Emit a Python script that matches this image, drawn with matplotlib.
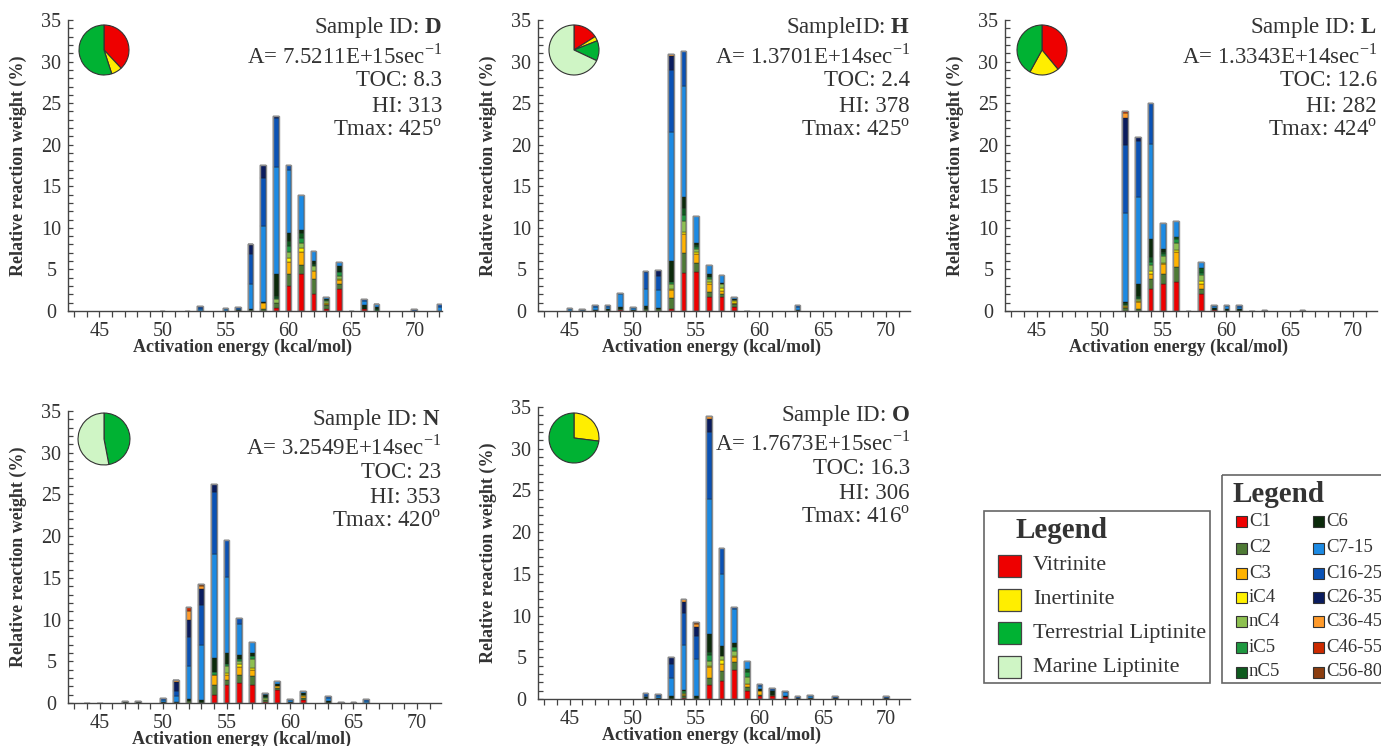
import matplotlib
matplotlib.use('Agg')
import matplotlib.pyplot as plt
from matplotlib.patches import Rectangle
from matplotlib.ticker import MultipleLocator

plt.rcParams['font.family'] = 'Liberation Serif'
plt.rcParams['mathtext.fontset'] = 'custom'
plt.rcParams['mathtext.rm'] = 'Liberation Serif'
plt.rcParams['mathtext.bf'] = 'Liberation Serif:bold'

W, H = 1381, 746
TXT = '#333333'

components = ['C1', 'C2', 'C3', 'iC4', 'nC4', 'iC5', 'nC5',
              'C6', 'C7-15', 'C16-25', 'C26-35', 'C36-45', 'C46-55', 'C56-80']
comp_colors = ['#ee0000', '#4e7a35', '#ffb300', '#fff000', '#8dc050', '#1e9840', '#0e5a1e',
               '#0b2a0b', '#1c8ae3', '#0a52b5', '#0a1c5e', '#ff9a2a', '#cc2a00', '#8b3d0f']

macerals = ['Vitrinite', 'Inertinite', 'Terrestrial Liptinite', 'Marine Liptinite']
maceral_colors = ['#ee0000', '#ffee00', '#00b233', '#cff5c5']

# activation energy (kcal/mol) -> relative reaction weight (%) per compound class
d_bars = {
    50: {'C16-25': 0.05},
    52: {'C16-25': 0.05},
    53: {'C7-15': 0.2, 'C16-25': 0.3, 'C26-35': 0.1},
    55: {'C7-15': 0.2, 'C16-25': 0.2},
    56: {'C6': 0.1, 'C7-15': 0.2, 'C16-25': 0.15},
    57: {'C2': 0.1, 'C6': 0.1, 'C7-15': 3.0, 'C16-25': 3.7, 'C26-35': 1.0, 'C36-45': 0.1, 'C56-80': 0.1},
    58: {'C2': 0.3, 'C3': 0.7, 'C6': 0.1, 'C7-15': 9.1, 'C16-25': 5.8, 'C26-35': 1.5},
    59: {'C1': 0.4, 'C2': 0.6, 'nC4': 0.4, 'iC5': 0.2, 'nC5': 0.2, 'C6': 2.7, 'C7-15': 12.8,
         'C16-25': 5.9, 'C26-35': 0.3},
    60: {'C1': 3.0, 'C2': 1.5, 'C3': 1.4, 'iC4': 0.5, 'nC4': 0.7, 'iC5': 0.7, 'nC5': 0.6, 'C6': 1.0,
         'C7-15': 7.5, 'C16-25': 0.7},
    61: {'C1': 4.5, 'C2': 1.0, 'C3': 1.6, 'iC4': 0.5, 'nC4': 0.6, 'iC5': 0.6, 'nC5': 0.6, 'C6': 0.4,
         'C7-15': 4.2},
    62: {'C1': 2.0, 'C2': 1.8, 'C3': 1.0, 'nC4': 0.6, 'nC5': 0.3, 'C6': 0.3, 'C7-15': 1.2},
    63: {'C1': 0.3, 'C2': 0.4, 'C3': 0.2, 'iC4': 0.1, 'nC4': 0.2, 'iC5': 0.1, 'nC5': 0.1, 'C6': 0.1,
         'C7-15': 0.2},
    64: {'C1': 2.6, 'C2': 0.6, 'C3': 0.5, 'iC4': 0.1, 'nC4': 0.4, 'iC5': 0.5, 'C6': 0.7, 'C7-15': 0.5},
    65: {'C16-25': 0.05},
    66: {'C1': 0.3, 'C6': 0.4, 'C7-15': 0.5, 'C16-25': 0.2},
    67: {'nC5': 0.2, 'C6': 0.3, 'C7-15': 0.3, 'C16-25': 0.1},
    70: {'C16-25': 0.25},
    72: {'C7-15': 0.5, 'C16-25': 0.4},
}

h_bars = {
    45: {'C7-15': 0.2, 'C16-25': 0.15},
    46: {'C7-15': 0.1, 'C16-25': 0.15},
    47: {'C6': 0.1, 'C7-15': 0.4, 'C16-25': 0.2},
    48: {'C6': 0.2, 'C7-15': 0.3, 'C16-25': 0.2},
    49: {'C1': 0.1, 'C2': 0.1, 'C6': 0.3, 'C7-15': 1.5, 'C16-25': 0.2},
    50: {'C6': 0.1, 'C7-15': 0.3, 'C16-25': 0.1},
    51: {'C2': 0.2, 'iC5': 0.1, 'C6': 0.3, 'C7-15': 2.1, 'C16-25': 2.0, 'C26-35': 0.1},
    52: {'C2': 0.2, 'C6': 0.2, 'C7-15': 2.1, 'C16-25': 1.7, 'C26-35': 0.7},
    53: {'C1': 0.3, 'C2': 1.3, 'C3': 0.9, 'iC4': 0.1, 'nC4': 0.6, 'iC5': 0.3, 'C6': 2.5,
         'C7-15': 15.5, 'C16-25': 7.5, 'C26-35': 1.7, 'C36-45': 0.2},
    54: {'C1': 4.6, 'C2': 2.4, 'C3': 2.3, 'iC4': 0.2, 'nC4': 1.3, 'iC5': 0.7, 'nC5': 0.9, 'C6': 1.3,
         'C7-15': 13.4, 'C16-25': 4.2},
    55: {'C1': 4.7, 'C2': 1.1, 'C3': 1.0, 'iC4': 0.3, 'nC4': 0.4, 'iC5': 0.2, 'nC5': 0.2, 'C6': 0.3,
         'C7-15': 3.2},
    56: {'C1': 1.7, 'C2': 0.6, 'C3': 0.9, 'iC4': 0.3, 'nC4': 0.3, 'iC5': 0.3, 'C6': 0.3, 'C7-15': 1.1},
    57: {'C1': 1.7, 'C2': 0.4, 'C3': 0.3, 'iC4': 0.4, 'nC4': 0.4, 'C6': 0.2, 'C7-15': 0.9},
    58: {'C1': 0.5, 'C2': 0.3, 'C3': 0.2, 'iC4': 0.2, 'nC4': 0.1, 'C6': 0.2, 'C7-15': 0.2},
    59: {'C6': 0.05},
    63: {'C6': 0.1, 'C7-15': 0.4, 'C16-25': 0.2},
}

l_bars = {
    52: {'C1': 0.05, 'C2': 0.3, 'C3': 0.1, 'iC4': 0.1, 'nC4': 0.2, 'nC5': 0.2, 'C6': 0.15,
         'C7-15': 10.7, 'C16-25': 8.2, 'C26-35': 3.2, 'C36-45': 0.6, 'C46-55': 0.2},
    53: {'C2': 0.2, 'C3': 0.9, 'iC4': 0.1, 'nC4': 0.2, 'iC5': 0.2, 'nC5': 0.2, 'C6': 1.4,
         'C7-15': 10.5, 'C16-25': 6.7, 'C26-35': 0.5},
    54: {'C1': 2.7, 'C2': 1.2, 'C3': 0.6, 'iC4': 0.3, 'nC4': 0.7, 'iC5': 0.4, 'nC5': 0.6, 'C6': 2.2,
         'C7-15': 11.4, 'C16-25': 4.9},
    55: {'C1': 3.2, 'C2': 1.2, 'C3': 1.2, 'iC4': 0.2, 'nC4': 0.8, 'iC5': 0.3, 'nC5': 0.2, 'C6': 0.3,
         'C7-15': 3.2},
    56: {'C1': 3.5, 'C2': 1.8, 'C3': 1.8, 'iC4': 0.2, 'nC4': 0.9, 'iC5': 0.4, 'nC5': 0.3, 'C7-15': 1.9},
    57: {'C6': 0.05},
    58: {'C1': 2.0, 'C2': 0.6, 'C3': 0.7, 'iC4': 0.3, 'nC4': 0.7, 'iC5': 0.3, 'nC5': 0.6, 'C7-15': 0.7},
    59: {'C1': 0.1, 'C6': 0.3, 'C7-15': 0.2, 'C16-25': 0.1},
    60: {'C6': 0.3, 'C7-15': 0.3, 'C16-25': 0.1},
    61: {'C6': 0.2, 'C7-15': 0.3, 'C16-25': 0.2},
    62: {'C6': 0.05},
    63: {'C6': 0.1},
    66: {'C6': 0.15},
}

n_bars = {
    44: {'C6': 0.05},
    45: {'C6': 0.05},
    47: {'C6': 0.1, 'C26-35': 0.1},
    48: {'C6': 0.1, 'C26-35': 0.1},
    50: {'C6': 0.1, 'C7-15': 0.3, 'C16-25': 0.2},
    51: {'C6': 0.1, 'C7-15': 0.7, 'C16-25': 0.6, 'C26-35': 1.1, 'C36-45': 0.2, 'C56-80': 0.1},
    52: {'C2': 0.2, 'C6': 0.3, 'C7-15': 3.9, 'C16-25': 3.5, 'C26-35': 2.0, 'C36-45': 1.1, 'C46-55': 0.5},
    53: {'C6': 0.4, 'C7-15': 6.6, 'C16-25': 4.8, 'C26-35': 1.9, 'C36-45': 0.3, 'C56-80': 0.3},
    54: {'C1': 0.9, 'C2': 1.3, 'C3': 1.1, 'iC4': 0.1, 'iC5': 0.3, 'C6': 1.7,
         'C7-15': 12.4, 'C16-25': 7.5, 'C26-35': 0.9},
    55: {'C1': 2.1, 'C2': 0.7, 'C3': 0.6, 'iC4': 0.2, 'nC4': 0.8, 'iC5': 0.3, 'C6': 1.3,
         'C7-15': 9.1, 'C16-25': 4.4},
    56: {'C1': 2.4, 'C2': 0.9, 'C3': 1.0, 'iC4': 0.4, 'nC4': 0.3, 'iC5': 0.3, 'C6': 0.4,
         'C7-15': 3.8, 'C16-25': 0.7},
    57: {'C1': 2.2, 'C2': 1.0, 'C3': 0.8, 'iC4': 0.2, 'nC4': 1.1, 'iC5': 0.3, 'C6': 0.4, 'C7-15': 1.3},
    58: {'C1': 0.1, 'C2': 0.2, 'nC4': 0.3, 'iC5': 0.1, 'C6': 0.2, 'C7-15': 0.2, 'C16-25': 0.1},
    59: {'C1': 1.5, 'C2': 0.3, 'C3': 0.2, 'C6': 0.3, 'C7-15': 0.3},
    60: {'C6': 0.1, 'C7-15': 0.2, 'C16-25': 0.2},
    61: {'C1': 0.4, 'C2': 0.2, 'C3': 0.2, 'nC4': 0.2, 'C6': 0.2, 'C7-15': 0.2},
    63: {'C6': 0.2, 'C7-15': 0.4, 'C16-25': 0.2},
    64: {'C6': 0.15},
    65: {'C6': 0.1},
    66: {'C7-15': 0.2, 'C16-25': 0.3},
}

o_bars = {
    51: {'C6': 0.2, 'C7-15': 0.2, 'C16-25': 0.3},
    52: {'C6': 0.1, 'C7-15': 0.3, 'C16-25': 0.2},
    53: {'C6': 0.4, 'C7-15': 2.1, 'C16-25': 1.7, 'C26-35': 0.8},
    54: {'C1': 0.1, 'C2': 0.2, 'C3': 0.2, 'iC4': 0.1, 'nC4': 0.1, 'iC5': 0.2, 'C6': 0.2,
         'C7-15': 5.4, 'C16-25': 3.8, 'C26-35': 1.3, 'C36-45': 0.4},
    55: {'C6': 0.4, 'C7-15': 4.4, 'C16-25': 2.8, 'C26-35': 1.0, 'C36-45': 0.4, 'C56-80': 0.2},
    56: {'C1': 1.7, 'C2': 0.8, 'C3': 1.3, 'iC4': 0.2, 'nC4': 0.6, 'iC5': 0.7, 'nC5': 0.3, 'C6': 2.2,
         'C7-15': 16.2, 'C16-25': 8.0, 'C26-35': 1.6, 'C36-45': 0.3},
    57: {'C1': 2.1, 'C2': 1.3, 'C3': 0.8, 'iC4': 0.5, 'nC4': 0.4, 'C6': 1.3, 'C7-15': 8.6, 'C16-25': 3.1},
    58: {'C1': 3.5, 'C2': 0.9, 'C3': 0.6, 'iC4': 0.2, 'nC4': 0.6, 'iC5': 0.4, 'C6': 0.5,
         'C7-15': 4.1, 'C16-25': 0.2},
    59: {'C1': 1.0, 'C2': 0.4, 'C3': 0.4, 'nC4': 0.8, 'iC5': 0.6, 'nC5': 0.4, 'C7-15': 1.0},
    60: {'C1': 0.3, 'C2': 0.2, 'C3': 0.4, 'C6': 0.3, 'C7-15': 0.3, 'C16-25': 0.3},
    61: {'C1': 0.3, 'C2': 0.2, 'C6': 0.4, 'C7-15': 0.2, 'C16-25': 0.2},
    62: {'C1': 0.2, 'C6': 0.2, 'C7-15': 0.4, 'C16-25': 0.2},
    63: {'C6': 0.1, 'C16-25': 0.3},
    64: {'C6': 0.1, 'C7-15': 0.2, 'C16-25': 0.2},
    66: {'C6': 0.1, 'C16-25': 0.3},
    70: {'C6': 0.1, 'C16-25': 0.2},
}

# maceral composition (%): vitrinite, inertinite, terrestrial, marine
d_macerals = [38, 7, 55, 0]
h_macerals = [16, 3, 13, 68]
l_macerals = [39, 19, 42, 0]
n_macerals = [0, 0, 47, 53]
o_macerals = [0, 27, 73, 0]

d_info = [r'Sample ID: $\mathbf{D}$', r'A= 7.5211E+15sec$^{\mathrm{-1}}$', 'TOC: 8.3', 'HI: 313',
          r'Tmax: 425$^{\mathrm{o}}$']
h_info = [r'SampleID: $\mathbf{H}$', r'A= 1.3701E+14sec$^{\mathrm{-1}}$', 'TOC: 2.4', 'HI: 378',
          r'Tmax: 425$^{\mathrm{o}}$']
l_info = [r'Sample ID: $\mathbf{L}$', r'A= 1.3343E+14sec$^{\mathrm{-1}}$', 'TOC: 12.6', 'HI: 282',
          r'Tmax: 424$^{\mathrm{o}}$']
n_info = [r'Sample ID: $\mathbf{N}$', r'A= 3.2549E+14sec$^{\mathrm{-1}}$', 'TOC: 23', 'HI: 353',
          r'Tmax: 420$^{\mathrm{o}}$']
o_info = [r'Sample ID: $\mathbf{O}$', r'A= 1.7673E+15sec$^{\mathrm{-1}}$', 'TOC: 16.3', 'HI: 306',
          r'Tmax: 416$^{\mathrm{o}}$']


def px_box(x0, y0, x1, y1):
    return [x0 / W, 1 - y1 / H, (x1 - x0) / W, (y1 - y0) / H]


def draw_sample(box, bars, info, xmax):
    ax = fig.add_axes(px_box(*box))
    energies = sorted(bars)
    bottoms = [0.0] * len(energies)
    for comp, col in zip(components, comp_colors):
        xs, hs, bs = [], [], []
        for i, e in enumerate(energies):
            v = bars[e].get(comp, 0)
            if v > 0:
                xs.append(e)
                hs.append(v)
                bs.append(bottoms[i])
                bottoms[i] += v
        if xs:
            ax.bar(xs, hs, bottom=bs, width=0.45, color=col, edgecolor='#1a1a1a', linewidth=0.3)
    ax.bar(energies, bottoms, width=0.45, fill=False, edgecolor='#8c8c8c', linewidth=1.0)

    ax.set_xlim(42.5, xmax)
    ax.set_ylim(0, 35)
    for s in ['top', 'right']:
        ax.spines[s].set_visible(False)
    for s in ['left', 'bottom']:
        ax.spines[s].set_color('#444444')
        ax.spines[s].set_linewidth(1.0)
    ax.xaxis.set_major_locator(MultipleLocator(5))
    ax.xaxis.set_minor_locator(MultipleLocator(1))
    ax.yaxis.set_major_locator(MultipleLocator(5))
    ax.yaxis.set_minor_locator(MultipleLocator(1))
    ax.tick_params(axis='x', which='both', direction='out', length=4, width=0.9, color='#444444')
    ax.tick_params(axis='x', which='major', labelsize=14.5, labelcolor=TXT, pad=4)
    ax.tick_params(axis='y', which='both', direction='in', length=3.5, width=0.9, color='#444444')
    ax.tick_params(axis='y', which='major', labelsize=14.5, labelcolor=TXT, pad=12)
    plt.setp(ax.get_yticklabels(), ha='center')

    ax.set_xlabel('Activation energy (kcal/mol)', fontsize=13, fontweight='bold', color=TXT, va='center')
    ax.xaxis.set_label_coords(0.466, -0.125)
    ax.set_ylabel('Relative reaction weight (%)', fontsize=13, fontweight='bold', color=TXT, va='center')
    ax.yaxis.set_label_coords(-0.134, 0.5)

    for off, line in zip([8, 36, 61, 86, 110], info):
        ax.text(1.0, 1 - off / 291, line, transform=ax.transAxes, ha='right', va='center',
                fontsize=16.5, color=TXT)
    return ax


def draw_pie(cx, cy, r, values):
    pax = fig.add_axes(px_box(cx - r - 1, cy - r - 1, cx + r + 1, cy + r + 1))
    vals = [v for v in values if v > 0]
    cols = [c for v, c in zip(values, maceral_colors) if v > 0]
    pax.pie(vals, colors=cols, startangle=90, counterclock=False,
            wedgeprops=dict(edgecolor='#333333', linewidth=0.8))
    pax.set_xlim(-1.04, 1.04)
    pax.set_ylim(-1.04, 1.04)
    pax.set_aspect('equal')


fig = plt.figure(figsize=(W / 100, H / 100), dpi=100)

draw_sample((68, 20, 442, 311), d_bars, d_info, 72.2)
draw_sample((538, 20, 910, 311), h_bars, h_info, 71.9)
draw_sample((1005, 20, 1377, 311), l_bars, l_info, 71.9)
draw_sample((68, 411, 441, 703), n_bars, n_info, 71.9)
draw_sample((538, 407, 910, 699), o_bars, o_info, 71.9)

draw_pie(104, 50, 25, d_macerals)
draw_pie(574, 50, 25, h_macerals)
draw_pie(1042, 50, 25, l_macerals)
draw_pie(104, 439, 26, n_macerals)
draw_pie(574, 438, 25, o_macerals)

# legend boxes drawn in pixel space
lax = fig.add_axes([0, 0, 1, 1])
lax.set_xlim(0, W)
lax.set_ylim(H, 0)
lax.axis('off')

lax.add_patch(Rectangle((984, 511), 226, 172, fill=False, edgecolor='#666666', linewidth=1.2))
lax.text(1062, 530, 'Legend', ha='center', va='center', fontsize=21, fontweight='bold', color=TXT)
for i, (name, col) in enumerate(zip(macerals, maceral_colors)):
    yc = 566 + i * 33.7
    lax.add_patch(Rectangle((998, yc - 11), 23, 22, facecolor=col, edgecolor='#444444', linewidth=0.9))
    lax.text(1033, yc, name, ha='left', va='center', fontsize=16, color=TXT)

lax.add_patch(Rectangle((1222, 475), 170, 208, fill=False, edgecolor='#666666', linewidth=1.2))
lax.text(1233, 495, 'Legend', ha='left', va='center', fontsize=21, fontweight='bold', color=TXT)
row_y = [521, 548, 573, 597, 621, 647, 672]
for i, (name, col) in enumerate(zip(components, comp_colors)):
    c, r = divmod(i, 7)
    px = 1236 if c == 0 else 1313
    yc = row_y[r]
    lax.add_patch(Rectangle((px, yc - 5.5), 11, 11, facecolor=col, edgecolor='#333333', linewidth=0.8))
    lax.text(px + 13, yc, name, ha='left', va='center', fontsize=13.5, color=TXT)

fig.savefig('out.png', dpi=100)
